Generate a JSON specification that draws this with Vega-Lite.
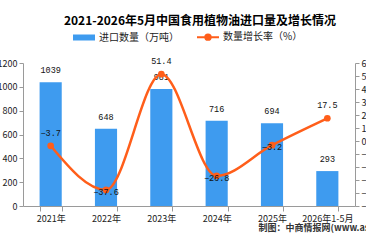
{
  "$schema": "https://vega.github.io/schema/vega-lite/v6.json",
  "autosize": {"type": "none"},
  "width": 332,
  "height": 143,
  "padding": {"left": 23, "top": 63, "right": 11, "bottom": 42},
  "background": "white",
  "title": {
    "text": "2021-2026年5月中国食用植物油进口量及增长情况",
    "font": "Noto Sans CJK SC",
    "fontSize": 12,
    "fontWeight": "bold",
    "color": "#000000",
    "anchor": "middle",
    "frame": "group",
    "dx": 11,
    "offset": -2
  },
  "config": {
    "font": "Noto Sans CJK SC",
    "view": {"stroke": null},
    "axis": {
      "domainColor": "#9a9a9a",
      "tickColor": "#9a9a9a",
      "labelColor": "#222222",
      "labelFont": "Noto Sans CJK SC",
      "labelFontSize": 9,
      "labelOverlap": false,
      "grid": false
    }
  },
  "data": {
    "values": [
      {"year": "2021年", "import": 1039, "growth": -3.7},
      {"year": "2022年", "import": 648, "growth": -37.6},
      {"year": "2023年", "import": 981, "growth": 51.4},
      {"year": "2024年", "import": 716, "growth": -26.8},
      {"year": "2025年", "import": 694, "growth": -3.2},
      {"year": "2026年1-5月", "import": 293, "growth": 17.5}
    ]
  },
  "encoding": {
    "x": {
      "field": "year",
      "type": "nominal",
      "sort": null,
      "scale": {"paddingInner": 0.6, "paddingOuter": 0.3},
      "axis": {
        "labelAngle": 0,
        "tickBand": "extent",
        "tickSize": 5,
        "labelPadding": 3,
        "title": "制图：中商情报网(www.askci.com)",
        "titleFont": "Noto Sans CJK SC",
        "titleFontSize": 9,
        "titleFontWeight": "bold",
        "titleColor": "#333333",
        "titleAnchor": "start",
        "titleAlign": "left",
        "titleBaseline": "middle",
        "titleX": 235,
        "titleY": 21
      }
    }
  },
  "layer": [
    {
      "encoding": {
        "y": {
          "field": "import",
          "type": "quantitative",
          "scale": {"domain": [0, 1200], "nice": false},
          "axis": {
            "title": null,
            "values": [0, 200, 400, 600, 800, 1000, 1200],
            "format": "d",
            "tickCount": 7,
            "labelOverlap": false,
            "tickSize": 4,
            "labelPadding": 2
          }
        }
      },
      "layer": [
        {
          "mark": {"type": "bar", "color": "#3E9BEF"},
          "encoding": {
            "color": {
              "datum": "进口数量（万吨）",
              "type": "nominal",
              "scale": {
                "domain": ["进口数量（万吨）", "数量增长率（%）"],
                "range": ["#3E9BEF", "#FF5E1A"]
              },
              "legend": {
                "orient": "none",
                "legendX": 50,
                "legendY": -37,
                "direction": "horizontal",
                "title": null,
                "labelFont": "Noto Sans CJK SC",
                "labelFontSize": 10,
                "labelColor": "#222222",
                "labelOffset": 4,
                "columnPadding": 14,
                "symbolSize": 400,
                "encode": {
                  "symbols": {
                    "update": {
                      "shape": {"signal": "datum.value == '进口数量（万吨）' ? 'M-1,-0.2H1V0.2H-1Z' : 'M-1.1,0H1.1M-0.27,0A0.27,0.27 0 1,1 0.27,0A0.27,0.27 0 1,1 -0.27,0'"},
                      "fill": {"signal": "datum.value == '进口数量（万吨）' ? '#3E9BEF' : '#FF5E1A'"},
                      "stroke": {"signal": "datum.value == '进口数量（万吨）' ? '#3E9BEF' : '#FF5E1A'"},
                      "strokeWidth": {"value": 2},
                      "opacity": {"value": 1}
                    }
                  }
                }
              }
            }
          }
        },
        {
          "mark": {"type": "text", "baseline": "bottom", "dy": -7, "font": "Liberation Mono", "fontSize": 8.5, "color": "#111111"},
          "encoding": {
            "text": {"field": "import", "type": "quantitative"}
          }
        }
      ]
    },
    {
      "encoding": {
        "y": {
          "field": "growth",
          "type": "quantitative",
          "scale": {"domain": [-50, 60], "nice": false},
          "axis": {
            "title": null,
            "orient": "right",
            "values": [-50, -40, -30, -20, -10, 0, 10, 20, 30, 40, 50, 60],
            "tickCount": 12,
            "labelOverlap": false,
            "tickSize": 4,
            "labelPadding": 2,
            "labelBound": false
          }
        }
      },
      "layer": [
        {
          "mark": {"type": "line", "interpolate": "monotone", "strokeWidth": 2.5},
          "encoding": {
            "color": {"datum": "数量增长率（%）", "type": "nominal"}
          }
        },
        {
          "mark": {"type": "point", "filled": true, "size": 45, "opacity": 1, "color": "#FF5E1A"}
        },
        {
          "transform": [{"filter": "indexof(['2021年', '2023年', '2026年1-5月'], datum.year) >= 0"}],
          "mark": {"type": "text", "baseline": "bottom", "dy": -8, "font": "Liberation Mono", "fontSize": 8.5, "color": "#111111"},
          "encoding": {
            "text": {"field": "growth", "type": "quantitative", "format": ".1f"}
          }
        },
        {
          "transform": [{"filter": "indexof(['2021年', '2023年', '2026年1-5月'], datum.year) < 0"}],
          "mark": {"type": "text", "baseline": "middle", "dy": 2, "font": "Liberation Mono", "fontSize": 8.5, "color": "#111111"},
          "encoding": {
            "text": {"field": "growth", "type": "quantitative", "format": ".1f"}
          }
        }
      ]
    }
  ],
  "resolve": {"scale": {"y": "independent"}}
}
